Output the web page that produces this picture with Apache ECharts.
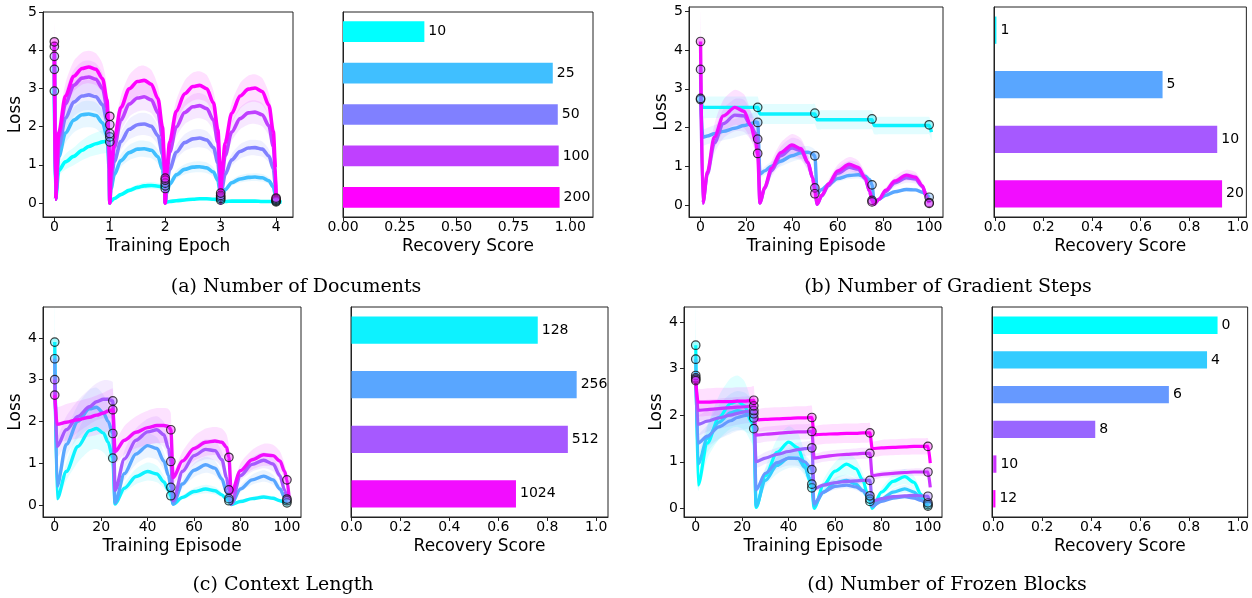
<!DOCTYPE html>
<html><head><meta charset="utf-8">
<script src="https://cdn.jsdelivr.net/npm/echarts@6/dist/echarts.min.js"></script>
<style>html,body{margin:0;padding:0;background:#fff}#c{width:1252px;height:598px}</style>
</head><body><div id="c"></div>
<script>
// ---------------- DATA ----------------
// (a) Number of Documents
const xA = [0,0.02,0.08,0.2,0.35,0.5,0.62,0.75,0.87,0.95,0.99,
 1,1.02,1.08,1.2,1.35,1.5,1.62,1.75,1.87,1.95,1.99,
 2,2.02,2.08,2.2,2.35,2.5,2.62,2.75,2.87,2.95,2.99,
 3,3.02,3.08,3.2,3.35,3.5,3.62,3.75,3.87,3.95,3.99,
 4,4.05,4.1];
const a10 = [2.93,0.1,0.85,1.08,1.22,1.38,1.48,1.55,1.6,1.62,1.62,
 0.03,0.05,0.12,0.22,0.33,0.41,0.45,0.46,0.44,0.42,0.4,
 0.01,0.02,0.04,0.06,0.08,0.1,0.11,0.11,0.1,0.09,0.08,
 0.04,0.04,0.04,0.05,0.05,0.05,0.05,0.04,0.04,0.04,0.03,
 0.03,0.03,0.02];
const a25 = [3.5,0.1,1.21,1.83,2.17,2.31,2.33,2.29,2.1,1.75,0.9,
 0,0.36,0.74,1.11,1.32,1.41,1.42,1.38,1.21,0.88,0.43,
 0,0.24,0.49,0.74,0.88,0.94,0.95,0.92,0.81,0.59,0.29,
 0,0.17,0.35,0.53,0.63,0.67,0.68,0.66,0.58,0.42,0.2,
 0.02,null,null];
const a50 = [3.84,0.1,1.47,2.22,2.64,2.8,2.83,2.78,2.57,2.15,1.1,
 0,0.52,1.08,1.61,1.93,2.05,2.07,2.01,1.76,1.28,0.62,
 0,0.43,0.88,1.33,1.58,1.68,1.7,1.65,1.45,1.05,0.51,
 0,0.36,0.75,1.13,1.35,1.44,1.45,1.41,1.23,0.9,0.44,
 0.02,null,null];
const a100 = [4.1,0.1,1.72,2.6,3.08,3.27,3.3,3.24,3.0,2.5,1.3,
 0,0.7,1.45,2.17,2.59,2.75,2.78,2.7,2.36,1.72,0.83,
 0,0.64,1.33,1.99,2.37,2.52,2.55,2.47,2.17,1.58,0.77,
 0,0.6,1.24,1.86,2.21,2.36,2.38,2.31,2.02,1.48,0.71,
 0.03,null,null];
const a200 = [4.22,0.1,1.85,2.8,3.32,3.52,3.56,3.5,3.25,2.7,1.4,
 0,0.8,1.67,2.5,2.99,3.18,3.21,3.11,2.73,1.99,0.96,
 0,0.77,1.6,2.4,2.86,3.05,3.08,2.99,2.62,1.91,0.92,
 0,0.75,1.57,2.35,2.8,2.98,3.01,2.92,2.56,1.87,0.9,
 0.05,null,null];
const mkXA = [0,1,2,3,4];
const mkA10 = [2.93,1.6,0.38,0.08,0.03];
const mkA25 = [3.5,1.73,0.45,0.12,0.05];
const mkA50 = [3.84,1.82,0.52,0.16,0.07];
const mkA100 = [4.1,2.05,0.6,0.2,0.1];
const mkA200 = [4.22,2.27,0.65,0.26,0.13];
const catsA = ['10','25','50','100','200'];
const scoreA = [0.358,0.923,0.945,0.949,0.953];

// (b) Number of Gradient Steps
const xB = [0,1,3,6,10,15,19,22,24,25,26,28,31,35,40,44,47,49,50,51,53,56,60,65,69,72,74,75,76,78,81,85,90,94,97,99,100,101];
const b1 = [2.73,2.52,2.52,2.52,2.52,2.52,2.52,2.52,2.52,2.52, 2.35,2.35,2.35,2.35,2.35,2.35,2.35,2.35,2.35,
 2.2,2.2,2.2,2.2,2.2,2.2,2.2,2.2,2.2, 2.05,2.05,2.05,2.05,2.05,2.05,2.05,2.05,2.05,1.88];
const b5 = [2.75,1.75,1.78,1.84,1.9,1.98,2.05,2.1,2.14,2.13, 0.8,0.88,1.0,1.13,1.27,1.35,1.36,1.32,1.27,
 0.3,0.4,0.53,0.68,0.76,0.78,0.74,0.65,0.52, 0.05,0.15,0.25,0.34,0.4,0.39,0.33,0.25,0.2,null];
const b10 = [3.5,0.05,0.8,1.6,2.1,2.32,2.3,2.05,1.85,1.7, 0.05,0.42,0.88,1.27,1.47,1.4,1.08,0.7,0.44,
 0.02,0.23,0.5,0.82,0.97,0.92,0.68,0.35,0.12, 0.02,0.14,0.35,0.57,0.7,0.67,0.48,0.2,0.06,null];
const b20 = [4.22,0.05,0.85,1.75,2.3,2.52,2.42,2.05,1.65,1.3, 0.05,0.45,0.95,1.35,1.55,1.45,1.1,0.7,0.35,
 0.02,0.25,0.55,0.88,1.05,0.97,0.7,0.35,0.12, 0.02,0.15,0.38,0.62,0.77,0.72,0.5,0.2,0.05,null];
const mkXB = [0,25,50,75,100];
const mkB1 = [2.72,2.52,2.37,2.22,2.07];
const mkB5 = [2.75,2.13,1.27,0.52,0.2];
const mkB10 = [3.5,1.7,0.44,0.12,0.06];
const mkB20 = [4.22,1.33,0.29,0.08,0.04];
const catsB = ['1','5','10','20'];
const scoreB = [0.006,0.69,0.915,0.935];

// (c) Context Length
const xC = [0,1,5,10,15,18,21,23,25,26,30,35,40,44,47,49,50,51,55,60,65,69,72,74,75,76,80,85,90,94,97,99,100,101];
const c128 = [3.9,0.15,0.8,1.4,1.78,1.83,1.72,1.5,1.12, 0.02,0.4,0.68,0.8,0.74,0.55,0.35,0.22,
 0.02,0.18,0.32,0.38,0.34,0.24,0.14,0.1, 0.01,0.08,0.15,0.19,0.16,0.1,0.07,0.05,null];
const c256 = [3.5,0.45,1.45,2.0,2.3,2.34,2.2,2.0,1.71, 0.05,0.75,1.22,1.42,1.35,1.05,0.7,0.42,
 0.02,0.5,0.83,0.96,0.88,0.62,0.3,0.15, 0.02,0.38,0.6,0.69,0.6,0.38,0.18,0.1,null];
const c512 = [3.0,1.4,1.8,2.12,2.35,2.47,2.53,2.53,2.49, 0.35,1.1,1.55,1.75,1.8,1.68,1.35,1.04,
 0.1,0.8,1.18,1.33,1.3,1.08,0.65,0.36, 0.02,0.7,0.97,1.07,0.98,0.7,0.35,0.15,null];
const c1024 = [2.63,1.93,1.98,2.04,2.1,2.15,2.2,2.25,2.28, 1.28,1.55,1.74,1.85,1.9,1.9,1.88,1.8,
 0.65,1.05,1.35,1.5,1.53,1.5,1.38,1.14, 0.28,0.82,1.08,1.2,1.18,1.05,0.8,0.6,0.12];
const mkXC = [0,25,50,75,100];
const mkC128 = [3.9,1.12,0.22,0.1,0.05];
const mkC256 = [3.5,1.71,0.42,0.15,0.1];
const mkC512 = [3.0,2.49,1.04,0.36,0.14];
const mkC1024 = [2.63,2.28,1.8,1.14,0.6];
const catsC = ['128','256','512','1024'];
const scoreC = [0.761,0.92,0.884,0.672];

// (d) Number of Frozen Blocks
const xD = [0,1,5,10,15,18,21,24,25,26,30,35,40,44,47,49,50,51,55,60,65,69,72,74,75,76,80,85,90,94,97,99,100,101];
const d0 = [3.5,0.5,1.4,1.95,2.25,2.3,2.2,1.85,1.71, 0.02,0.7,1.2,1.42,1.3,0.95,0.6,0.44,
 0.0,0.5,0.8,0.95,0.85,0.6,0.3,0.15, 0.0,0.35,0.58,0.68,0.56,0.3,0.1,0.05,null];
const d4 = [3.2,0.95,1.5,1.85,2.05,2.1,2.07,1.97,1.94, 0.05,0.6,0.92,1.08,1.08,0.88,0.65,0.52,
 0.05,0.35,0.55,0.6,0.52,0.38,0.25,0.2, 0.03,0.2,0.35,0.42,0.35,0.2,0.1,0.08,null];
const d6 = [2.85,1.4,1.55,1.75,1.88,1.95,1.99,2.02,2.03, 0.4,0.75,0.98,1.08,1.07,1.0,0.9,0.83,
 0.1,0.35,0.47,0.5,0.46,0.38,0.3,0.27, 0.05,0.15,0.22,0.25,0.22,0.17,0.13,0.12,null];
const d8 = [2.8,1.8,1.87,1.94,2.0,2.04,2.07,2.09,2.1, 1.0,1.08,1.16,1.22,1.26,1.28,1.29,1.3,
 0.42,0.5,0.55,0.58,0.59,0.6,0.6,0.6, 0.15,0.21,0.25,0.27,0.28,0.27,0.26,0.26,0.1];
const d10 = [2.77,2.1,2.12,2.14,2.16,2.17,2.18,2.19,2.2, 1.57,1.59,1.61,1.63,1.64,1.64,1.65,1.65,
 1.08,1.11,1.14,1.16,1.17,1.18,1.18,1.18, 0.7,0.73,0.75,0.77,0.78,0.78,0.78,0.78,0.45];
const d12 = [2.74,2.28,2.28,2.29,2.29,2.3,2.3,2.31,2.32, 1.9,1.91,1.92,1.93,1.94,1.94,1.95,1.95,
 1.58,1.59,1.6,1.61,1.61,1.62,1.62,1.62, 1.28,1.3,1.31,1.32,1.33,1.33,1.33,1.33,0.97];
const mkXD = [0,25,50,75,100];
const mkD0 = [3.5,1.71,0.44,0.15,0.05];
const mkD4 = [3.2,1.94,0.52,0.2,0.08];
const mkD6 = [2.85,2.03,0.83,0.27,0.12];
const mkD8 = [2.8,2.1,1.3,0.6,0.26];
const mkD10 = [2.77,2.2,1.65,1.18,0.78];
const mkD12 = [2.74,2.32,1.95,1.62,1.33];
const catsD = ['0','4','6','8','10','12'];
const scoreD = [0.917,0.874,0.718,0.417,0.013,0.009];

// Tick labels
const xTicksA = [0,1,2,3,4];
const yTicksA = [0,1,2,3,4,5];
const xTicksEp = [0,20,40,60,80,100];
const yTicksB = [0,1,2,3,4,5];
const yTicksC = [0,1,2,3,4];
const yTicksD = [0,1,2,3,4];
const scoreTicksA = [0,0.25,0.5,0.75,1];
const scoreTicks = [0,0.2,0.4,0.6,0.8,1];

// Band relative spreads (read from the shaded areas)
const spreadA = [0.19,0.15,0.14,0.13,0.12];
const spreadB = [0.11,0.12,0.18,0.18];
const spreadC = [0.27,0.2,0.18,0.22];
const spreadD = [0.24,0.2,0.15,0.12,0.1,0.13];

// ---------------- STYLE / LAYOUT ----------------
const colA = ['#00ffff','#40bfff','#8080ff','#bf40ff','#ff00ff'];
const col4 = ['#0df2ff','#59a6ff','#a659ff','#f20dff'];
const colD = ['#00ffff','#33ccff','#6699ff','#9966ff','#cc33ff','#ff00ff'];
const FONT = 'DejaVu Sans';
const TICK_FS = 14, NAME_FS = 17;
const FRAME = '#222';

function rgba(hex, a) {
  const n = parseInt(hex.slice(1), 16);
  return 'rgba(' + (n >> 16) + ',' + ((n >> 8) & 255) + ',' + (n & 255) + ',' + a + ')';
}

const linePanels = [
  {grid:{left:43,top:12,width:250,height:205}, x:[-0.205,4.305], y:[-0.366,5.0], xt:xTicksA, yt:yTicksA,
   name:'Training Epoch', xs:xA, mkX:mkXA, lw:3.6,
   s:[[a10,mkA10],[a25,mkA25],[a50,mkA50],[a100,mkA100],[a200,mkA200]], col:colA, sp:spreadA},
  {grid:{left:689,top:7,width:254,height:210}, x:[-5.05,106.05], y:[-0.31,5.11], xt:xTicksEp, yt:yTicksB,
   name:'Training Episode', xs:xB, mkX:mkXB, lw:3.4,
   s:[[b1,mkB1],[b5,mkB5],[b10,mkB10],[b20,mkB20]], col:col4, sp:spreadB},
  {grid:{left:43,top:307,width:258,height:210}, x:[-5.05,106.05], y:[-0.29,4.74], xt:xTicksEp, yt:yTicksC,
   name:'Training Episode', xs:xC, mkX:mkXC, lw:3.4,
   s:[[c128,mkC128],[c256,mkC256],[c512,mkC512],[c1024,mkC1024]], col:col4, sp:spreadC},
  {grid:{left:684,top:307,width:258,height:210}, x:[-5.05,106.05], y:[-0.185,4.32], xt:xTicksEp, yt:yTicksD,
   name:'Training Episode', xs:xD, mkX:mkXD, lw:3.2,
   s:[[d0,mkD0],[d4,mkD4],[d6,mkD6],[d8,mkD8],[d10,mkD10],[d12,mkD12]], col:colD, sp:spreadD}
];
const barPanels = [
  {grid:{left:343,top:12,width:250,height:205}, x:[0,1.1], xt:scoreTicksA, dec:2, cats:catsA, vals:scoreA, col:colA},
  {grid:{left:994,top:7,width:255,height:210}, x:[-0.004,1.035], xt:scoreTicks, dec:1, cats:catsB, vals:scoreB, col:col4},
  {grid:{left:351,top:307,width:257,height:210}, x:[-0.002,1.048], xt:scoreTicks, dec:1, cats:catsC, vals:scoreC, col:col4},
  {grid:{left:992,top:307,width:257,height:210}, x:[-0.005,1.04], xt:scoreTicks, dec:1, cats:catsD, vals:scoreD, col:colD}
];
const captions = [
  {text:'(a) Number of Documents', x:296, y:287},
  {text:'(b) Number of Gradient Steps', x:948, y:287},
  {text:'(c) Context Length', x:283, y:585},
  {text:'(d) Number of Frozen Blocks', x:947, y:585}
];

// ---------------- BUILD ----------------
const grids = [], xAxes = [], yAxes = [], series = [];
function axisBase(gi, range) {
  return {type:'value', gridIndex:gi, min:range[0], max:range[1], splitLine:{show:false},
    axisLine:{show:true, onZero:false, lineStyle:{color:FRAME, width:1}},
    nameTextStyle:{fontFamily:FONT, fontSize:NAME_FS, color:'#000'}};
}
linePanels.forEach((P) => {
  const gi = grids.length;
  grids.push(Object.assign({show:true, borderColor:FRAME, borderWidth:1, containLabel:false}, P.grid));
  xAxes.push(Object.assign(axisBase(gi, P.x), {
    name:P.name, nameLocation:'middle', nameGap:21,
    axisTick:{show:true, length:4, customValues:P.xt, lineStyle:{color:FRAME}},
    axisLabel:{customValues:P.xt, margin:3, fontFamily:FONT, fontSize:TICK_FS, color:'#000', formatter:v=>String(v)}
  }));
  yAxes.push(Object.assign(axisBase(gi, P.y), {
    name:'Loss', nameLocation:'middle', nameGap:14,
    axisTick:{show:true, length:4, customValues:P.yt, lineStyle:{color:FRAME}},
    axisLabel:{customValues:P.yt, margin:6, fontFamily:FONT, fontSize:TICK_FS, color:'#000', formatter:v=>String(v)}
  }));
  // bands
  P.s.forEach(([ys], k) => {
    const r = P.sp[k], c = P.col[k];
    series.push({type:'custom', xAxisIndex:gi, yAxisIndex:gi, silent:true, z:1, clip:true,
      data:[[P.xs[0], ys[0]]], encode:{x:0, y:1},
      renderItem:(params, api) => {
        const up = [], dn = [];
        P.xs.forEach((x, i) => {
          const y = ys[i]; if (y == null) return;
          up.push(api.coord([x, y * (1 + r)])); dn.push(api.coord([x, y * (1 - r)]));
        });
        return {type:'polygon', shape:{points: up.concat(dn.reverse()), smooth:0.25},
          style:{fill:c, opacity:0.12}};
      }});
  });
  // lines
  P.s.forEach(([ys], k) => {
    series.push({type:'line', xAxisIndex:gi, yAxisIndex:gi, silent:true, z:2,
      data:P.xs.map((x, i) => [x, ys[i]]), symbol:'none', smooth:0.3, smoothMonotone:'x',
      connectNulls:false, color:P.col[k], lineStyle:{color:P.col[k], width:P.lw}});
  });
  // markers
  P.s.forEach(([ys, mk], k) => {
    series.push({type:'scatter', xAxisIndex:gi, yAxisIndex:gi, silent:true, z:3,
      data:P.mkX.map((x, i) => [x, mk[i]]), symbol:'circle', symbolSize:8.5,
      itemStyle:{color:rgba(P.col[k], 0.45), borderColor:'#111', borderWidth:1.2}});
  });
});
barPanels.forEach((B) => {
  const gi = grids.length;
  const n = B.cats.length;
  const pad = 0.05 * (n - 0.5);
  grids.push(Object.assign({show:true, borderColor:FRAME, borderWidth:1, containLabel:false}, B.grid));
  xAxes.push(Object.assign(axisBase(gi, B.x), {
    name:'Recovery Score', nameLocation:'middle', nameGap:21,
    axisTick:{show:true, length:4, customValues:B.xt, lineStyle:{color:FRAME}},
    axisLabel:{customValues:B.xt, margin:3, fontFamily:FONT, fontSize:TICK_FS, color:'#000',
      formatter:v => v.toFixed(B.dec)}
  }));
  yAxes.push(Object.assign(axisBase(gi, [-0.25 - pad, n - 0.75 + pad]), {
    inverse:true, axisTick:{show:false}, axisLabel:{show:false}
  }));
  series.push({type:'custom', xAxisIndex:gi, yAxisIndex:gi, silent:true, z:2,
    data:B.vals.map((v, i) => [v, i]), encode:{x:0, y:1},
    renderItem:(params, api) => {
      const v = api.value(0), i = api.value(1);
      const p0 = api.coord([0, i - 0.25]), p1 = api.coord([v, i + 0.25]);
      const x0 = Math.min(p0[0], p1[0]), y0 = Math.min(p0[1], p1[1]);
      return {type:'group', children:[
        {type:'rect', shape:{x:x0, y:y0, width:Math.abs(p1[0] - p0[0]), height:Math.abs(p1[1] - p0[1])},
         style:{fill:B.col[params.dataIndex]}},
        {type:'text', x:Math.max(p0[0], p1[0]) + 4, y:(p0[1] + p1[1]) / 2,
         style:{text:B.cats[params.dataIndex], fill:'#000', font:TICK_FS + 'px "' + FONT + '"',
                align:'left', verticalAlign:'middle'}}
      ]};
    }});
});

const chart = echarts.init(document.getElementById('c'));
chart.setOption({
  animation:false, backgroundColor:'#fff',
  grid:grids, xAxis:xAxes, yAxis:yAxes, series:series,
  graphic:captions.map(c => ({type:'text', x:c.x, y:c.y,
    style:{text:c.text, fill:'#000', font:'19px "DejaVu Serif"', align:'center', verticalAlign:'middle'}}))
});
</script></body></html>
